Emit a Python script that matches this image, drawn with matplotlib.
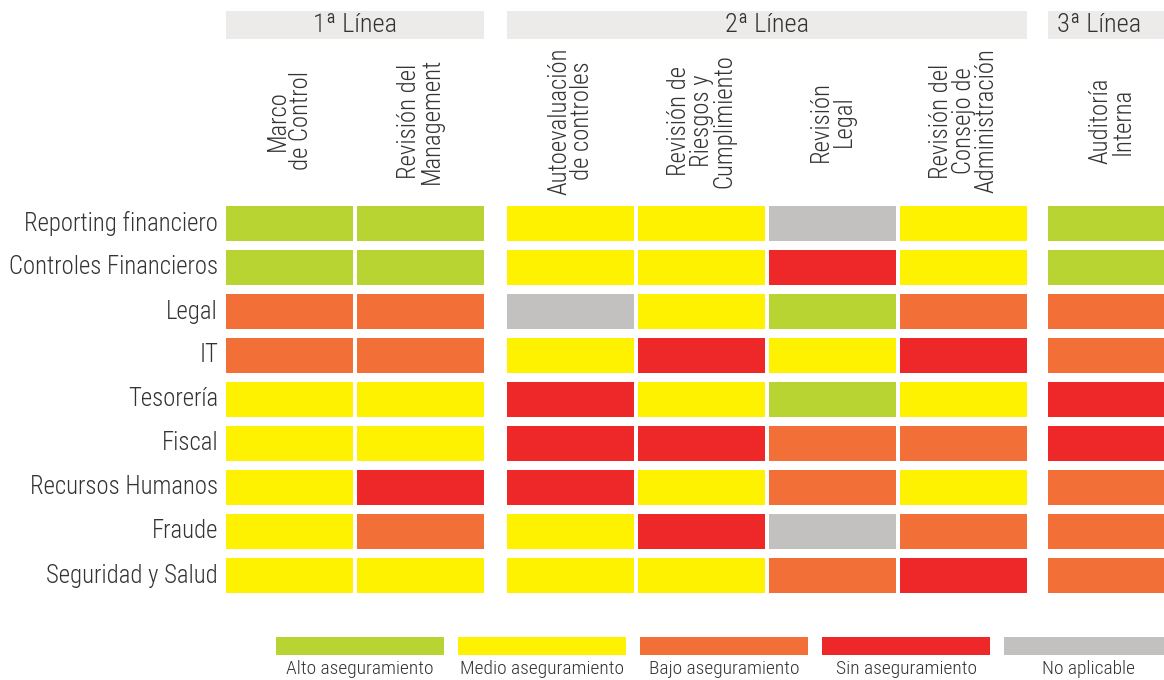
import matplotlib.pyplot as plt
from matplotlib import font_manager
from matplotlib.patches import Rectangle

# datos
grupos = ['1ª Línea', '2ª Línea', '3ª Línea']
columnas = ['Marco\nde Control', 'Revisión del\nManagement',
            'Autoevaluación\nde controles', 'Revisión de\nRiesgos y\nCumplimiento',
            'Revisión\nLegal', 'Revisión del\nConsejo de\nAdministración',
            'Auditoría\nInterna']
grupo_col = [0, 0, 1, 1, 1, 1, 2]
filas = ['Reporting financiero', 'Controles Financieros', 'Legal', 'IT', 'Tesorería',
         'Fiscal', 'Recursos Humanos', 'Fraude', 'Seguridad y Salud']
# A = alto, M = medio, B = bajo, S = sin, N = no aplicable
niveles = [
    ['A', 'A', 'M', 'M', 'N', 'M', 'A'],
    ['A', 'A', 'M', 'M', 'S', 'M', 'A'],
    ['B', 'B', 'N', 'M', 'A', 'B', 'B'],
    ['B', 'B', 'M', 'S', 'M', 'S', 'B'],
    ['M', 'M', 'S', 'M', 'A', 'M', 'S'],
    ['M', 'M', 'S', 'S', 'B', 'B', 'S'],
    ['M', 'S', 'S', 'M', 'B', 'M', 'B'],
    ['M', 'B', 'M', 'S', 'N', 'B', 'B'],
    ['M', 'M', 'M', 'M', 'B', 'S', 'B'],
]
codigos = ['A', 'M', 'B', 'S', 'N']
leyenda = ['Alto aseguramiento', 'Medio aseguramiento', 'Bajo aseguramiento',
           'Sin aseguramiento', 'No aplicable']
colores = {'A': '#B8D432', 'M': '#FFF200', 'B': '#F26F38', 'S': '#EE2728', 'N': '#C2C1BF'}

# fuente estrecha si existe
disponibles = {f.name for f in font_manager.fontManager.ttflist}
fuente = 'DejaVu Sans'
for nombre in ['Liberation Sans Narrow', 'DejaVu Sans Condensed', 'Roboto Condensed', 'Roboto']:
    if nombre in disponibles:
        fuente = nombre
        break
plt.rcParams['font.family'] = [fuente, 'DejaVu Sans']
plt.rcParams['font.stretch'] = 'condensed'
escala = {'Liberation Sans Narrow': 1.0, 'DejaVu Sans Condensed': 0.95,
          'Roboto Condensed': 1.0, 'Roboto': 0.93}.get(fuente, 0.85)
texto = '#333333'

fig = plt.figure(figsize=(11.64, 6.8), dpi=100)
ax = fig.add_axes([0, 0, 1, 1])
ax.set_xlim(0, 1164)
ax.set_ylim(680, 0)
ax.axis('off')

inicio_grupo = [226, 507, 1048]
paso_x, ancho = 131, 127
y0, paso_y, alto = 206, 44, 35

x_col = []
for j, g in enumerate(grupo_col):
    k = grupo_col[:j].count(g)
    x_col.append(inicio_grupo[g] + k * paso_x)

# cabeceras de grupo
for g, nombre in enumerate(grupos):
    cols = [x for x, gg in zip(x_col, grupo_col) if gg == g]
    x1 = cols[0]
    x2 = cols[-1] + ancho
    ax.add_patch(Rectangle((x1, 11), x2 - x1, 28, color='#ECEBEA', lw=0))
    xc = (x1 + x2) / 2 if g < 2 else (x1 + x2) / 2 - 12
    ax.text(xc, 25, nombre, ha='center', va='center', fontsize=19 * escala, color=texto,
            fontweight='light')

# cabeceras de columna
for x, nombre in zip(x_col, columnas):
    ax.text(x + ancho / 2, 121, nombre, rotation=90, ha='center', va='center',
            multialignment='center', fontsize=17.8 * escala, color=texto,
            fontweight='light', linespacing=0.92)

# celdas
for i, fila in enumerate(filas):
    y = y0 + i * paso_y
    ax.text(218, y + alto / 2, fila, ha='right', va='center', fontsize=17.8 * escala,
            color=texto, fontweight='light')
    for j, x in enumerate(x_col):
        ax.add_patch(Rectangle((x, y), ancho, alto, color=colores[niveles[i][j]], lw=0))

# leyenda
for k, (c, lab) in enumerate(zip(codigos, leyenda)):
    x = 276 + k * 182
    ax.add_patch(Rectangle((x, 637), 168, 18, color=colores[c], lw=0))
    ax.text(x + 168 / 2 if k < 4 else 1088, 669, lab, ha='center', va='center',
            fontsize=14 * escala, color=texto, fontweight='light')

fig.savefig('out.png', dpi=100)
